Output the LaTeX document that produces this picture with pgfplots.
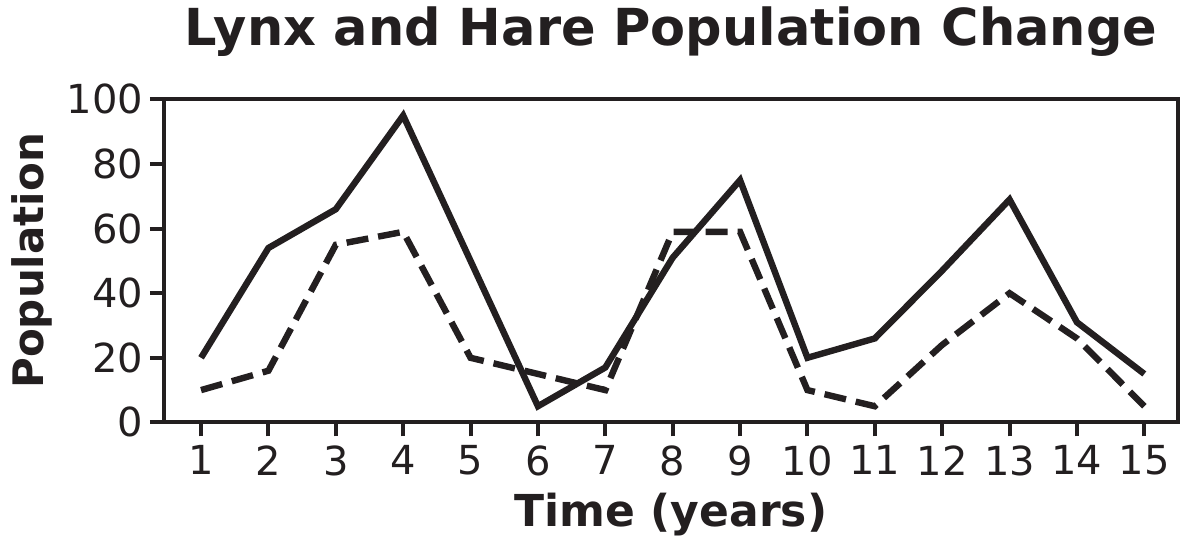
\documentclass[border=0pt]{standalone}
\usepackage{pgfplots}
\pgfplotsset{compat=1.18}
\usepackage{fontspec}
\setmainfont{DejaVu Sans}
\definecolor{ink}{HTML}{231F20}
\begin{document}
\begin{tikzpicture}
\begin{axis}[
  scale only axis,
  width=507pt, height=161.5pt,
  xmin=0.45, xmax=15.5,
  ymin=0, ymax=100,
  xtick={1,...,15},
  ytick={0,20,...,100},
  axis line style={line width=2pt, ink},
  tick style={line width=2pt, ink},
  tick align=outside,
  major tick length=7pt,
  xtick pos=bottom, ytick pos=left,
  tick label style={font=\fontsize{20}{20}\selectfont, text=ink},
  /pgf/number format/assume math mode=true,
  xticklabel style={yshift=-1pt},
  title={\bfseries Lynx and Hare Population Change},
  title style={font=\fontsize{25.5}{25.5}\selectfont, text=ink,
    at={(axis description cs:0.5,1.13)}, anchor=base},
  xlabel={\bfseries Time (years)},
  ylabel={\bfseries Population},
  xlabel style={font=\fontsize{22}{22}\selectfont, text=ink,
    at={(axis description cs:0.5,-0.322)}, anchor=base},
  ylabel style={font=\fontsize{21}{21}\selectfont, text=ink,
    at={(axis description cs:-0.1193,0.5)}, anchor=base, rotate=0},
]
\addplot[line width=3.2pt, ink, line join=miter] coordinates {
(1,20) (2,54) (3,66) (4,95) (5,50) (6,5) (7,17) (8,51) (9,75) (10,20) (11,26) (12,47) (13,69) (14,31) (15,15)
};
\addplot[line width=3.2pt, ink, line join=miter, dash pattern=on 11pt off 5pt] coordinates {
(1,10) (2,16) (3,55) (4,59) (5,20) (6,15) (7,10) (8,59) (9,59) (10,10) (11,5) (12,24) (13,40) (14,26) (15,5)
};
\end{axis}
\path (-82pt,-57.5pt) rectangle (512pt,209.5pt);
\end{tikzpicture}
\end{document}
